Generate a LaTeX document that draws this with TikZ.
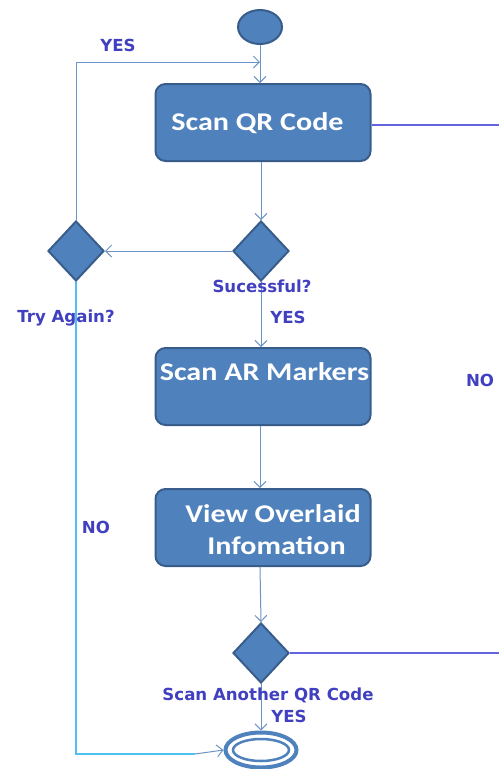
\documentclass[tikz,border=0pt]{standalone}
\usepackage{fontspec}
\setmainfont{Carlito}
\newfontfamily\boxfont[FakeStretch=1.18]{Carlito}
\newfontfamily\labfont{DejaVu Sans}
\usetikzlibrary{shapes.geometric,arrows.meta}
\definecolor{boxfill}{HTML}{4F81BD}
\definecolor{boxline}{HTML}{385D8A}
\definecolor{arr}{HTML}{6B93C5}
\definecolor{lbl}{HTML}{4040C0}
\definecolor{rline}{HTML}{6464E0}
\definecolor{noline}{HTML}{4FC0F0}
\tikzset{
  actbox/.style={draw=boxline, line width=2pt, fill=boxfill, rounded corners=10pt, minimum width=215pt, minimum height=77pt, inner sep=0pt},
  dec/.style={draw=boxline, line width=2pt, fill=boxfill, diamond, aspect=0.93, minimum width=56pt, minimum height=60pt, inner sep=0pt},
  boxtext/.style={text=white, inner sep=0pt, font=\boxfont\bfseries\fontsize{25.5}{30}\selectfont},
  lab/.style={text=lbl, inner sep=0pt, font=\labfont\bfseries\fontsize{16.6}{19}\selectfont},
  flow/.style={draw=arr, line width=1pt, -{Straight Barb[length=6pt,width=12pt,line width=1pt]}},
}
\begin{document}
\begin{tikzpicture}[x=1pt,y=-1pt]
\useasboundingbox (0,0) rectangle (499,769);
% start
\node[ellipse, draw=boxline, line width=2pt, fill=boxfill, minimum width=44pt, minimum height=34pt, inner sep=0pt] (start) at (260,27) {};
% boxes
\node[actbox] (qr) at (263,122.5) {};
\node[boxtext] (qrt) at (257.5,123) {Scan QR Code};
\node[actbox] (ar) at (263,386.5) {};
\node[boxtext] (art) at (264.5,372) {Scan AR Markers};
\node[actbox] (ov) at (263,527.5) {};
\node[boxtext] (ovt1) at (273,514) {View Overlaid};
\node[boxtext] (ovt2) at (276.5,546) {Infomation};
% diamonds
\node[dec] (suc) at (261,251) {};
\node[dec] (try) at (76,251) {};
\node[dec] (another) at (261,653) {};
% final
\node[ellipse, draw=boxfill, line width=4pt, fill=white, minimum width=71pt, minimum height=35pt, inner sep=0pt] (fin) at (261,750) {};
\node[ellipse, draw=boxfill, line width=2.5pt, minimum width=56pt, minimum height=22pt, inner sep=0pt] (fininner) at (261,750) {};
% coordinates
\coordinate (yescorner) at (76,62);
\coordinate (yesend) at (260,62);
\coordinate (qrright) at (499,125);
\coordinate (anright) at (499,653);
\coordinate (nocorner) at (76,754);
\coordinate (nomid) at (195,754);
% connectors
\draw[flow] (start.south) -- (qr.north -| start.south);
\draw[flow] (qr.south -| suc.north) -- (suc.north);
\draw[flow] (suc.west) -- (try.east);
\draw[flow] (suc.south) -- (ar.north -| suc.south);
\draw[flow] (ar.south -| 260,0) -- (ov.north -| 260,0);
\draw[flow] (ov.south -| 260,0) -- (another.north);
\draw[flow] (another.south) -- (fin.north);
\draw[flow] (try.north) -- (yescorner) -- (yesend);
\draw[draw=rline, line width=1.2pt] (qr.east |- qrright) -- (qrright);
\draw[draw=rline, line width=1.2pt] (another.east) -- (anright);
\draw[draw=noline, line width=1.3pt] (try.south) -- (nocorner) -- (nomid);
\draw[flow] (nomid) -- (fin.west);
% labels
\node[lab] (yes1) at (118,45) {YES};
\node[lab] (suct) at (262,286) {Sucessful?};
\node[lab] (yes2) at (288,317) {YES};
\node[lab] (tryt) at (66,318) {Try Again?};
\node[lab] (no1) at (480,380) {NO};
\node[lab] (no2) at (96,527) {NO};
\node[lab] (ant) at (268,695) {Scan Another QR Code};
\node[lab] (yes3) at (289,716) {YES};
\end{tikzpicture}
\end{document}
